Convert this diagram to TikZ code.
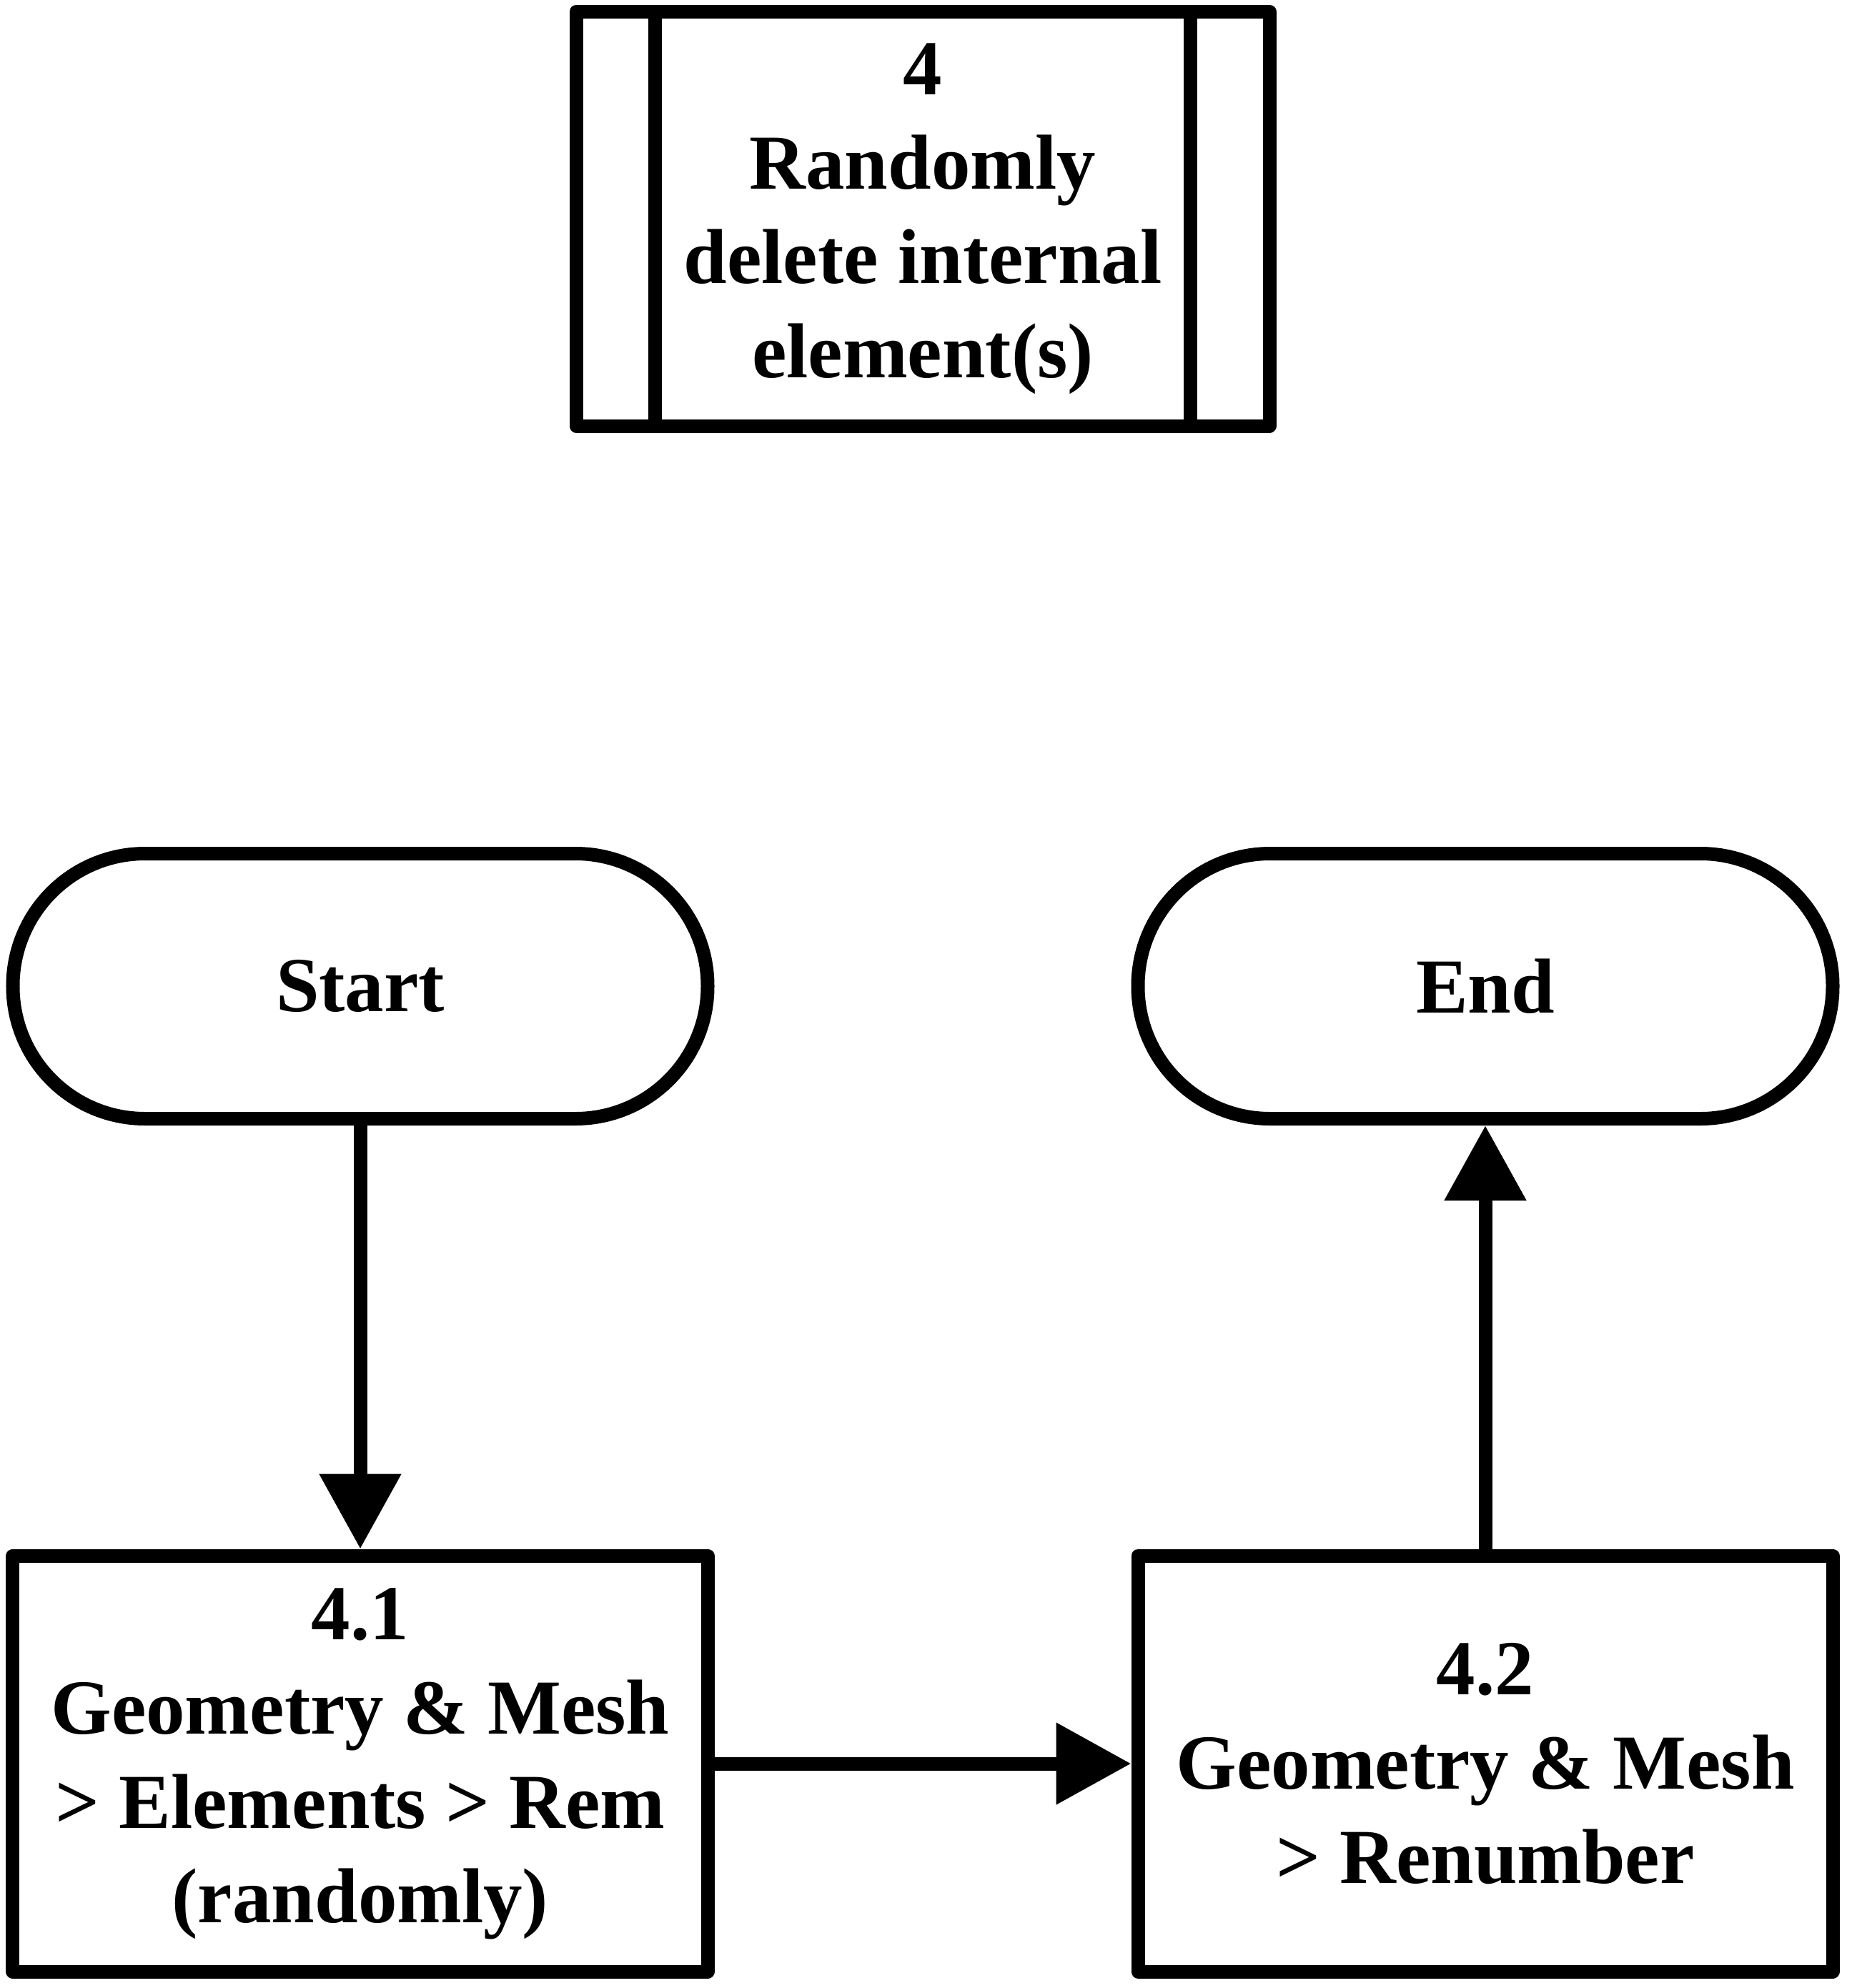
\documentclass[tikz,border=0pt]{standalone}
\usepackage{fontspec}
\setmainfont{Liberation Serif}
\usetikzlibrary{calc,arrows.meta}
\tikzset{
	flowbox/.style={draw, line width=0.19cm, line join=round, align=center, font=\fontsize{31}{37.6}\selectfont\bfseries, fill=white},
	terminal/.style={flowbox, rounded corners=1.85cm, minimum width=9.72cm, minimum height=3.71cm},
	flowarrow/.style={line width=0.19cm, -{Triangle[length=1.05cm, width=1.1cm]}}
}

\begin{document}
\begin{tikzpicture}
			%%%%% START %%%%%
			
			\useasboundingbox (0, 0) rectangle (26.05, -27.82);
			
			\node[flowbox, minimum width=9.70cm, minimum height=5.80cm] (delete) at (12.91, -3.06) {4\\Randomly\\delete internal\\element(s)};
			\draw[line width=0.19cm] ($(delete.north west)+(1.2, 0)$) -- ($(delete.south west)+(1.2, 0)$);
			\draw[line width=0.19cm] ($(delete.north east)+(-1.2, 0)$) -- ($(delete.south east)+(-1.2, 0)$);
			
			\node[terminal] (start) at (5.04, -13.80) {Start};
			\node[terminal] (end) at (20.78, -13.80) {End};
			
			\node[flowbox, minimum width=9.72cm, minimum height=5.82cm] (remove) at (5.04, -24.68) {4.1\\Geometry \& Mesh\\> Elements > Rem\\(randomly)};
			\node[flowbox, minimum width=9.72cm, minimum height=5.82cm] (renumber) at (20.78, -24.68) {4.2\\Geometry \& Mesh\\> Renumber};
			
			\draw[flowarrow] (start) -- (remove);
			\draw[flowarrow] (remove) -- (renumber);
			\draw[flowarrow] (renumber) -- (end);
			
			%%%%% END %%%%%
\end{tikzpicture}
\end{document}
